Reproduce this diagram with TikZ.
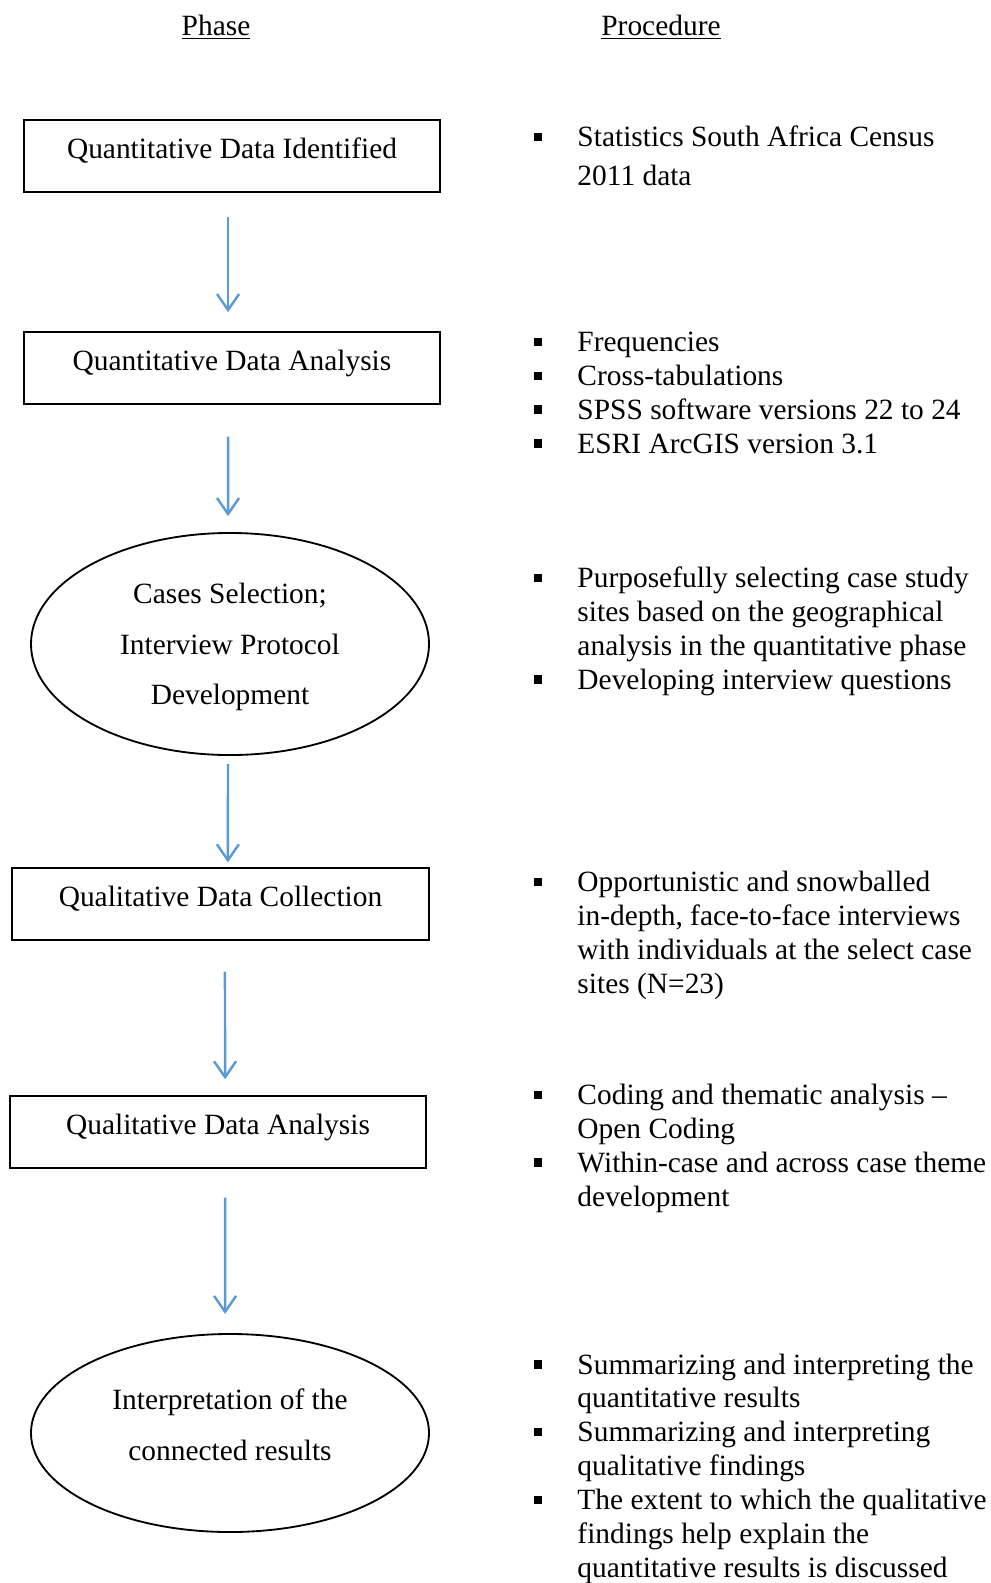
\documentclass[tikz,border=0pt]{standalone}
\usepackage{fontspec}
\setmainfont{Liberation Serif}
\usetikzlibrary{shapes.geometric,arrows.meta}
\newcommand{\sqbul}{\leavevmode\llap{\rule[2.2pt]{3.4pt}{3.4pt}\hspace{14.4pt}}}

\begin{document}
\begin{tikzpicture}[x=0.408pt, y=-0.408pt,
  font=\fontsize{12}{13.8}\selectfont,
  phasebox/.style={draw, line width=0.6pt, minimum width=169.7pt, minimum height=29.4pt,
    inner sep=0pt, text height=8pt, text depth=5.8pt},
  phaseoval/.style={draw, ellipse, line width=0.75pt, inner sep=0pt, align=center,
    font=\fontsize{12}{20.6}\selectfont, text depth=2pt},
  flow/.style={draw={rgb,255:red,91;green,155;blue,213}, line width=1pt,
    -{Straight Barb[length=6.5pt,width=9pt]}},
  proc/.style={anchor=base west, align=left, inner sep=0pt},
  heading/.style={anchor=base, inner sep=0pt}]
  \useasboundingbox (0,0) rectangle (991,1583);
  % column headings
  \node[heading] (hphase) at (216,35) {\underline{Phase}};
  \node[heading] (hproc) at (661,35) {\underline{Procedure}};
  % phases
  \node[phasebox] (qdi) at (232,156) {Quantitative Data Identified};
  \node[phasebox] (qda) at (232,368) {Quantitative Data Analysis};
  \node[phaseoval, minimum width=162.4pt, minimum height=90.6pt, text height=51.4pt] (cases) at (230,644)
    {Cases Selection;\\Interview Protocol\\Development};
  \node[phasebox, minimum width=170.1pt] (qlc) at (220.5,904) {Qualitative Data Collection};
  \node[phasebox] (qla) at (218,1132) {Qualitative Data Analysis};
  \node[phaseoval, minimum width=162.4pt, minimum height=80.8pt, text height=24.4pt] (interp) at (230,1433)
    {Interpretation of the\\connected results};
  % arrows between phases
  \draw[flow, shorten <=9.8pt, shorten >=7.8pt] ([xshift=-1.6pt]qdi.south) -- ([xshift=-1.6pt]qda.north);
  \draw[flow, shorten <=13pt, shorten >=6.5pt] ([xshift=-1.6pt]qda.south) -- ([xshift=-0.8pt]cases.north);
  \draw[flow, shorten <=3.3pt, shorten >=2pt] ([xshift=-0.8pt]cases.south) -- ([xshift=3pt]qlc.north);
  \draw[flow, shorten <=12.6pt, shorten >=6.5pt] ([xshift=1.8pt]qlc.south) -- ([xshift=2.9pt]qla.north);
  \draw[flow, shorten <=11.8pt, shorten >=7.8pt] ([xshift=2.9pt]qla.south) -- ([xshift=-2pt]interp.north);
  % procedures (anchored on the last line)
  \node[proc, font=\fontsize{12}{15.7}\selectfont] (p1) at (577,185)
    {\sqbul Statistics South Africa Census\\2011 data};
  \node[proc] (p2) at (577,453)
    {\sqbul Frequencies\\\sqbul Cross-tabulations\\\sqbul SPSS software versions 22 to 24\\\sqbul ESRI ArcGIS version 3.1};
  \node[proc] (p3) at (577,689)
    {\sqbul Purposefully selecting case study\\sites based on the geographical\\analysis in the quantitative phase\\\sqbul Developing interview questions};
  \node[proc] (p4) at (577,993)
    {\sqbul Opportunistic and snowballed\\in-depth, face-to-face interviews\\with individuals at the select case\\sites (N=23)};
  \node[proc] (p5) at (577,1206)
    {\sqbul Coding and thematic analysis --\\Open Coding\\\sqbul Within-case and across case theme\\development};
  \node[proc] (p6) at (577,1577)
    {\sqbul Summarizing and interpreting the\\quantitative results\\\sqbul Summarizing and interpreting\\qualitative findings\\\sqbul The extent to which the qualitative\\findings help explain the\\quantitative results is discussed};
\end{tikzpicture}
\end{document}
